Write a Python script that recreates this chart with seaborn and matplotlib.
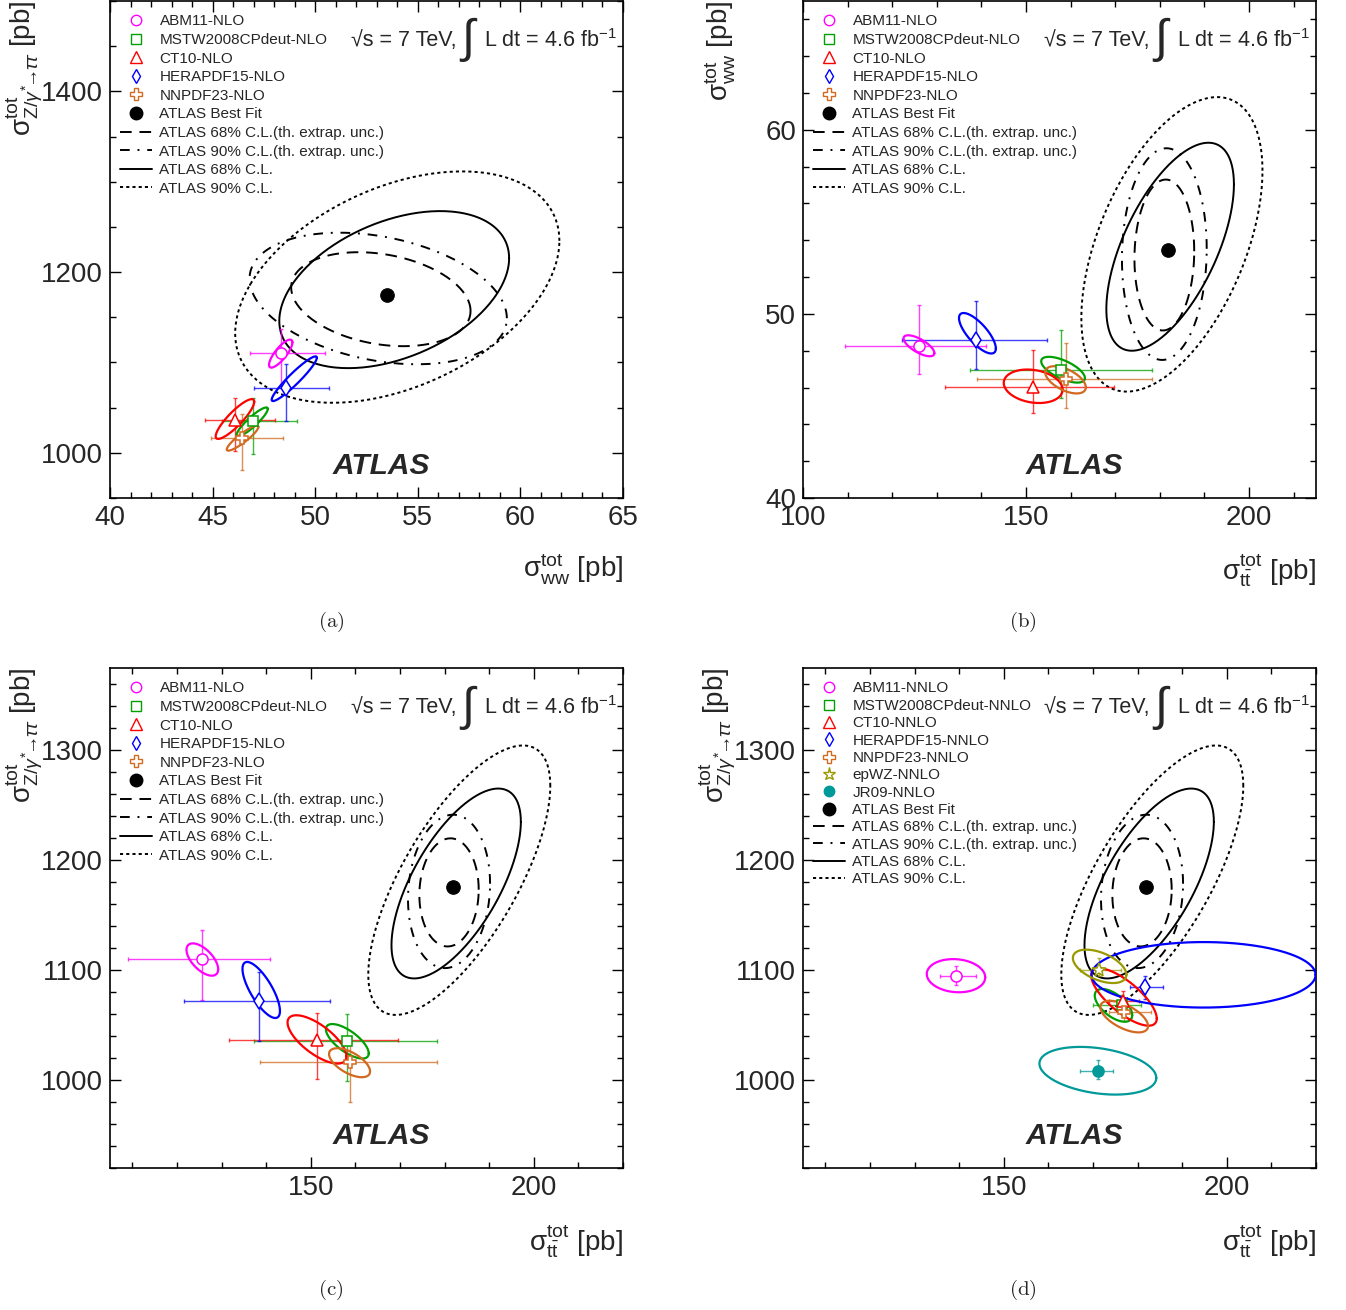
import numpy as np
import pandas as pd
import matplotlib
matplotlib.use('Agg')
import matplotlib.pyplot as plt
from matplotlib.lines import Line2D
from matplotlib.ticker import MultipleLocator
import seaborn as sns

# ---------------- data ----------------
nlo_names = ['ABM11-NLO', 'MSTW2008CPdeut-NLO', 'CT10-NLO', 'HERAPDF15-NLO', 'NNPDF23-NLO']
nnlo_names = ['ABM11-NNLO', 'MSTW2008CPdeut-NNLO', 'CT10-NNLO', 'HERAPDF15-NNLO',
              'NNPDF23-NNLO', 'epWZ-NNLO', 'JR09-NNLO']
cl_names = ['ATLAS 68% C.L.(th. extrap. unc.)', 'ATLAS 90% C.L.(th. extrap. unc.)',
            'ATLAS 68% C.L.', 'ATLAS 90% C.L.']

# (a) sigma_WW vs sigma_Z->tautau
a_fit = [53.5, 1175]
a_cl_cx = [53.2, 53.07, 53.85, 54.0]
a_cl_cy = [1170, 1170.8, 1180.6, 1183.4]
a_cl_sx = [4.37, 6.27, 5.6, 7.9]
a_cl_sy = [52, 72.8, 86.9, 128]
a_cl_rho = [-0.25, -0.3, 0.4, 0.4]
a_x = [48.32, 46.98, 46.09, 48.58, 46.42]
a_y = [1110, 1035.5, 1036.3, 1071.4, 1016.1]
a_xlo = [46.82, 45.47, 44.63, 47.03, 44.92]
a_xhi = [50.48, 49.10, 48.04, 50.69, 48.45]
a_ylo = [1074, 998.9, 1002.5, 1035.5, 980.6]
a_yhi = [1137.4, 1060.4, 1061.2, 1097.8, 1042.9]
a_ex = [48.32, 46.93, 46.09, 48.98, 46.46]
a_ey = [1109.8, 1034.2, 1037.4, 1082, 1016.2]
a_esx = [0.57, 0.76, 0.94, 1.10, 0.77]
a_esy = [15.5, 16, 22, 24.7, 13.8]
a_erho = [0.8, 0.9, 0.87, 0.94, 0.9]

# (b) sigma_ttbar vs sigma_WW
b_fit = [181.9, 53.5]
b_cl_cx = [181.0, 181.0, 182.3, 182.7]
b_cl_cy = [53.2, 53.25, 53.65, 53.78]
b_cl_sx = [6.7, 9.5, 14.3, 20.3]
b_cl_sy = [4.1, 5.75, 5.65, 8.0]
b_cl_rho = [0.05, 0.05, 0.6, 0.5]
b_x = [126.0, 157.9, 151.6, 138.76, 158.9]
b_y = [48.24, 46.93, 46.02, 48.59, 46.44]
b_xlo = [109.5, 137.4, 131.8, 122.1, 138.9]
b_xhi = [141.0, 178.3, 169.7, 154.6, 178.3]
b_ylo = [46.76, 45.45, 44.6, 47.02, 44.91]
b_yhi = [50.46, 49.1, 48.03, 50.68, 48.43]
b_ex = [126.0, 158.3, 151.6, 139.1, 158.85]
b_ey = [48.27, 46.97, 46.07, 48.95, 46.42]
b_esx = [3.45, 4.9, 6.6, 4.13, 4.55]
b_esy = [0.57, 0.7, 0.91, 1.1, 0.74]
b_erho = [-0.7, -0.65, -0.2, -0.75, -0.55]

# (c), (d) sigma_ttbar vs sigma_Z->tautau (same ATLAS contours)
cd_fit = [181.9, 1175.5]
cd_cl_cx = [181.0, 181.0, 182.6, 183.3]
cd_cl_cy = [1170.8, 1171.7, 1178.9, 1181.9]
cd_cl_sx = [6.65, 9.2, 14.5, 20.4]
cd_cl_sy = [49.2, 69.8, 86.4, 122.6]
cd_cl_rho = [0.05, 0.1, 0.65, 0.7]

c_x = [125.55, 158.1, 151.4, 138.4, 158.7]
c_y = [1110.6, 1035.5, 1036.6, 1071.7, 1016.2]
c_xlo = [109.1, 137.3, 131.6, 121.7, 138.7]
c_xhi = [140.8, 178.2, 169.5, 154.4, 178.2]
c_ylo = [1072.8, 998.9, 1001, 1035.8, 980]
c_yhi = [1137, 1060.4, 1061, 1098, 1039.6]
c_ex = [125.7, 158.2, 151.4, 138.9, 158.7]
c_ey = [1109.7, 1035.3, 1037, 1082, 1015.8]
c_esx = [3.55, 4.8, 6.6, 4.2, 4.6]
c_esy = [14.7, 15.7, 22, 25.5, 13.2]
c_erho = [-0.6, -0.7, -0.7, -0.75, -0.6]

d_x = [139.3, 176.6, 176.7, 181.7, 176.9, 171.3, 171.07]
d_y = [1094.3, 1068.3, 1072.2, 1084.4, 1062.2, 1100.5, 1008.3]
d_xlo = [135.7, 170.0, 173.7, 178.2, 173.6, 167.0, 167.1]
d_xhi = [143.7, 180.8, 180.4, 185.8, 183.1, 176.3, 174.5]
d_ylo = [1086.8, 1060, 1064, 1073.8, 1053.7, 1095, 1001]
d_yhi = [1103.8, 1077, 1081, 1095, 1070.7, 1110.8, 1018]
d_ex = [139.3, 174.6, 176.95, 194.8, 177.0, 171.5, 171.1]
d_ey = [1095, 1068, 1075.6, 1095.8, 1057.8, 1103.5, 1008.5]
d_esx = [6.55, 4.2, 7.35, 25.1, 5.35, 6.0, 13.1]
d_esy = [15.1, 14.9, 26.1, 29.8, 14.4, 15.2, 21.7]
d_erho = [-0.1, -0.6, -0.75, 0.0, -0.6, -0.5, -0.3]

# ---------------- style ----------------
sns.set_style('ticks')
plt.rcParams['font.family'] = ['Liberation Sans', 'DejaVu Sans']
plt.rcParams['mathtext.fontset'] = 'custom'
plt.rcParams['mathtext.rm'] = 'Liberation Sans'
plt.rcParams['mathtext.it'] = 'Liberation Sans:italic'
plt.rcParams['mathtext.bf'] = 'Liberation Sans:bold'

pdf_colors = ['#ff00ff', '#00a000', '#ff0000', '#0000ff', '#d2691e', '#999900', '#009999']
pdf_markers = ['o', 's', '^', 'd', 'P', '*', 'o']
pdf_msize = [8, 7.5, 8.5, 8, 8.5, 10, 8]
cl_styles = [(0, (6, 4)), (0, (5, 4, 1, 4)), '-', (0, (1.6, 1.6))]
CL_LW = 1.4

lab_z = r'σ$^{\mathrm{tot}}_{\mathrm{Z/}\gamma^{*}\!\!\rightarrow\!\!\tau\tau}$ [pb]'
lab_ww = r'σ$^{\mathrm{tot}}_{\mathrm{ww}}$ [pb]'
lab_tt = r'σ$^{\mathrm{tot}}_{\mathrm{t}\bar{\mathrm{t}}}$ [pb]'


def ellipse(cx, cy, sx, sy, rho):
    t = np.linspace(0, 2 * np.pi, 300)
    return pd.DataFrame({'x': cx + sx * np.cos(t),
                         'y': cy + sy * (rho * np.cos(t) + np.sqrt(1 - rho ** 2) * np.sin(t))})


def draw_panel(ax, fit, cl, pts, names, lims, locs, labels, spacing):
    cx, cy, sx, sy, rho = cl
    for i in range(4):
        sns.lineplot(data=ellipse(cx[i], cy[i], sx[i], sy[i], rho[i]), x='x', y='y',
                     sort=False, estimator=None, color='black', lw=CL_LW,
                     linestyle=cl_styles[i], ax=ax, zorder=2)

    px, py, xlo, xhi, ylo, yhi, ex, ey, esx, esy, erho = pts
    handles = []
    for i, name in enumerate(names):
        col = pdf_colors[i]
        filled = name.startswith('JR09')
        ax.errorbar(px[i], py[i],
                    xerr=[[px[i] - xlo[i]], [xhi[i] - px[i]]],
                    yerr=[[py[i] - ylo[i]], [yhi[i] - py[i]]],
                    fmt='none', ecolor=col, elinewidth=1.0, capsize=1.6, capthick=1.0,
                    alpha=0.75, zorder=3)
        sns.lineplot(data=ellipse(ex[i], ey[i], esx[i], esy[i], erho[i]), x='x', y='y',
                     sort=False, estimator=None, color=col, lw=1.6, ax=ax, zorder=4)
        ax.plot(px[i], py[i], ls='none', marker=pdf_markers[i], ms=pdf_msize[i],
                mfc=col if filled else 'white', mec=col, mew=1.1, zorder=5)
        handles.append(Line2D([], [], ls='none', marker=pdf_markers[i], ms=pdf_msize[i] - 0.5,
                              mfc=col if filled else 'none', mec=col, mew=1.0, label=name))

    sns.scatterplot(x=[fit[0]], y=[fit[1]], color='black', s=95, edgecolor='black',
                    ax=ax, zorder=6)
    handles.append(Line2D([], [], ls='none', marker='o', ms=9, color='black',
                          label='ATLAS Best Fit'))
    for i in range(4):
        handles.append(Line2D([], [], color='black', lw=CL_LW, ls=cl_styles[i],
                              label=cl_names[i]))

    ax.set_xlim(*lims[0])
    ax.set_ylim(*lims[1])
    ax.xaxis.set_major_locator(MultipleLocator(locs[0]))
    ax.xaxis.set_minor_locator(MultipleLocator(locs[1]))
    ax.yaxis.set_major_locator(MultipleLocator(locs[2]))
    ax.yaxis.set_minor_locator(MultipleLocator(locs[3]))
    ax.tick_params(which='both', direction='in', top=True, right=True, width=1.0,
                   color='black')
    ax.tick_params(which='major', length=8, labelsize=20, pad=5)
    ax.tick_params(which='minor', length=4)
    for sp in ax.spines.values():
        sp.set_linewidth(1.2)
        sp.set_color('black')

    ax.set_xlabel(labels[0], fontsize=20, loc='right')
    ax.set_ylabel(labels[1], fontsize=20, loc='top')
    ax.xaxis.set_label_coords(1.0, -0.108)
    ax.yaxis.set_label_coords(-0.127, 1.0)

    ax.legend(handles=handles, loc='upper left', bbox_to_anchor=(0.019, 0.973),
              frameon=False, fontsize=11, borderpad=0, borderaxespad=0,
              handlelength=2.1, handletextpad=0.5, labelspacing=spacing)

    ax.text(0.676, 0.921, '√s = 7 TeV,', transform=ax.transAxes, ha='right',
            va='center', fontsize=15.5)
    ax.text(0.698, 0.921, '∫', transform=ax.transAxes, ha='center', va='center',
            fontsize=34)
    ax.text(0.988, 0.921, r'L dt = 4.6 fb$^{\mathrm{-1}}$', transform=ax.transAxes,
            ha='right', va='center', fontsize=15.5)
    ax.text(0.434, 0.049, 'ATLAS', transform=ax.transAxes, ha='left', va='baseline',
            fontsize=21.5, fontweight='bold', fontstyle='italic')


W, H = 1346, 1310
fig = plt.figure(figsize=(W / 100, H / 100), dpi=100)


def add_axes(left, top, w, h):
    return fig.add_axes([left / W, 1 - (top + h) / H, w / W, h / H])


ax_a = add_axes(110, 1, 513, 497)
ax_b = add_axes(803, 1, 513, 497)
ax_c = add_axes(110, 668, 513, 500)
ax_d = add_axes(803, 668, 513, 500)

draw_panel(ax_a, a_fit, (a_cl_cx, a_cl_cy, a_cl_sx, a_cl_sy, a_cl_rho),
           (a_x, a_y, a_xlo, a_xhi, a_ylo, a_yhi, a_ex, a_ey, a_esx, a_esy, a_erho),
           nlo_names, ((40, 65), (950, 1500)), (5, 1, 200, 50), (lab_ww, lab_z), 0.3)
draw_panel(ax_b, b_fit, (b_cl_cx, b_cl_cy, b_cl_sx, b_cl_sy, b_cl_rho),
           (b_x, b_y, b_xlo, b_xhi, b_ylo, b_yhi, b_ex, b_ey, b_esx, b_esy, b_erho),
           nlo_names, ((100, 215), (40, 67)), (50, 10, 10, 2), (lab_tt, lab_ww), 0.3)
draw_panel(ax_c, cd_fit, (cd_cl_cx, cd_cl_cy, cd_cl_sx, cd_cl_sy, cd_cl_rho),
           (c_x, c_y, c_xlo, c_xhi, c_ylo, c_yhi, c_ex, c_ey, c_esx, c_esy, c_erho),
           nlo_names, ((105, 220), (920, 1375)), (50, 10, 100, 20), (lab_tt, lab_z), 0.3)
draw_panel(ax_d, cd_fit, (cd_cl_cx, cd_cl_cy, cd_cl_sx, cd_cl_sy, cd_cl_rho),
           (d_x, d_y, d_xlo, d_xhi, d_ylo, d_yhi, d_ex, d_ey, d_esx, d_esy, d_erho),
           nnlo_names, ((105, 220), (920, 1375)), (50, 10, 100, 20), (lab_tt, lab_z), 0.22)

for lab, (x, y) in zip(['(a)', '(b)', '(c)', '(d)'],
                       [(331, 622), (1023, 622), (331, 1290), (1023, 1290)]):
    fig.text(x / W, 1 - y / H, r'$\mathrm{' + lab + '}$', ha='center', va='center',
             fontsize=15, math_fontfamily='cm')

fig.savefig('out.png', dpi=100)
